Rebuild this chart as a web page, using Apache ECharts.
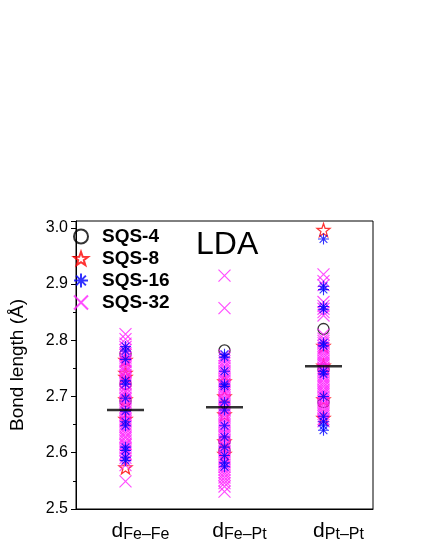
<!DOCTYPE html>
<html>
<head>
<meta charset="utf-8">
<script src="https://cdn.jsdelivr.net/npm/echarts@6/dist/echarts.min.js"></script>
<style>
  html, body { margin: 0; padding: 0; background: #fff; }
  #chart { width: 424px; height: 548px; }
</style>
</head>
<body>
<div id="chart"></div>
<script>
// categories
var categories = ["Fe–Fe", "Fe–Pt", "Pt–Pt"];
var yTicks = [2.5, 2.6, 2.7, 2.8, 2.9, 3.0];

// bond lengths, one list per category
var sqs4 = [
  [2.776, 2.722, 2.692],
  [2.782, 2.620, 2.604],
  [2.820, 2.748, 2.690]
];
var sqs8 = [
  [2.765, 2.742, 2.735, 2.695, 2.660, 2.574],
  [2.727, 2.700, 2.668, 2.620, 2.598],
  [2.996, 2.790, 2.755, 2.695, 2.662]
];
var sqs16 = [
  [2.789, 2.781, 2.766, 2.728, 2.722, 2.697, 2.674, 2.655, 2.648, 2.610, 2.604, 2.592, 2.586],
  [2.775, 2.770, 2.745, 2.722, 2.718, 2.690, 2.676, 2.648, 2.628, 2.610, 2.595, 2.582, 2.575],
  [2.980, 2.896, 2.890, 2.860, 2.855, 2.795, 2.790, 2.745, 2.740, 2.700, 2.665, 2.655, 2.648, 2.640]
];
var sqs32 = [
  [2.811, 2.802, 2.794, 2.788, 2.783, 2.777, 2.774, 2.769, 2.764, 2.761, 2.756, 2.752, 2.746,
   2.743, 2.738, 2.733, 2.730, 2.724, 2.721, 2.716, 2.711, 2.708, 2.703, 2.698, 2.695, 2.690,
   2.686, 2.681, 2.677, 2.673, 2.668, 2.665, 2.660, 2.656, 2.651, 2.647, 2.643, 2.638, 2.634,
   2.629, 2.626, 2.621, 2.616, 2.613, 2.608, 2.604, 2.599, 2.596, 2.591, 2.585, 2.578, 2.549],
  [2.915, 2.857, 2.773, 2.768, 2.763, 2.759, 2.754, 2.750, 2.745, 2.741, 2.737, 2.732, 2.728,
   2.723, 2.719, 2.715, 2.710, 2.706, 2.702, 2.697, 2.693, 2.689, 2.684, 2.680, 2.676, 2.671,
   2.667, 2.663, 2.658, 2.654, 2.649, 2.645, 2.641, 2.636, 2.632, 2.628, 2.623, 2.619, 2.614,
   2.610, 2.606, 2.601, 2.597, 2.592, 2.588, 2.584, 2.579, 2.575, 2.570, 2.565, 2.561, 2.556,
   2.551, 2.546, 2.540, 2.531],
  [2.917, 2.905, 2.898, 2.868, 2.861, 2.856, 2.850, 2.844, 2.810, 2.803, 2.799, 2.795, 2.790,
   2.786, 2.782, 2.777, 2.773, 2.769, 2.764, 2.760, 2.756, 2.751, 2.747, 2.743, 2.738, 2.734,
   2.730, 2.725, 2.721, 2.717, 2.712, 2.708, 2.704, 2.699, 2.695, 2.691, 2.686, 2.682, 2.678,
   2.673, 2.669, 2.665, 2.660, 2.656]
];
// averages (black bars)
var means = [2.676, 2.681, 2.754];

function toPoints(lists) {
  var out = [];
  lists.forEach(function (vals, i) {
    vals.forEach(function (v) { out.push([i, v]); });
  });
  return out;
}

var starPath = "path://M10,0L12.35,6.76L19.51,6.91L13.80,11.24L15.88,18.09L10,14L4.12,18.09L6.20,11.24L0.49,6.91L7.65,6.76Z";
var asteriskPath = "path://M0,5L10,5M5,0L5,10M1.5,1.5L8.5,8.5M8.5,1.5L1.5,8.5";
var crossPath = "path://M0,0L10,10M10,0L0,10";

var chart = echarts.init(document.getElementById("chart"));
var font = "Liberation Sans, Arial, sans-serif";

var option = {
  animation: false,
  backgroundColor: "#fff",
  textStyle: { fontFamily: font },
  grid: { left: 66, right: 51, top: 221, bottom: 39, show: true, borderColor: "#000", borderWidth: 1 },
  title: {
    text: "LDA",
    left: 191,
    top: 224,
    textStyle: { fontSize: 32, fontWeight: "normal", color: "#000", fontFamily: font }
  },
  legend: {
    orient: "vertical",
    left: 68,
    top: 222,
    itemWidth: 14,
    itemHeight: 14,
    itemGap: 3,
    data: ["SQS-4", "SQS-8", "SQS-16", "SQS-32"],
    textStyle: { fontSize: 19, fontWeight: "bold", color: "#000", fontFamily: font, padding: [0, 0, 0, 9] }
  },
  xAxis: {
    type: "category",
    data: categories,
    boundaryGap: true,
    axisLine: { lineStyle: { color: "#000", width: 1 } },
    axisTick: { alignWithLabel: true, length: 5, lineStyle: { color: "#000" } },
    axisLabel: {
      interval: 0,
      margin: 12,
      padding: [0, 0, 0, 30],
      formatter: function (v) { return "{d|d}{s|" + v + "}"; },
      rich: {
        d: { fontSize: 21, color: "#000", fontFamily: font, verticalAlign: "top", lineHeight: 22 },
        s: { fontSize: 16, color: "#000", fontFamily: font, verticalAlign: "bottom", lineHeight: 15, padding: [11, 0, 0, 0] }
      }
    },
    splitLine: { show: false }
  },
  yAxis: {
    type: "value",
    min: 2.5,
    max: 3.012,
    interval: 0.1,
    name: "Bond length (Å)",
    nameLocation: "middle",
    nameGap: 49,
    nameTextStyle: { fontSize: 19, color: "#000", fontFamily: font },
    axisLine: { show: true, lineStyle: { color: "#000", width: 1 } },
    axisTick: { show: true, length: 5, lineStyle: { color: "#000" } },
    minorTick: { show: true, splitNumber: 2, length: 3, lineStyle: { color: "#000" } },
    axisLabel: {
      fontSize: 16,
      color: "#000",
      margin: 8,
      showMaxLabel: false,
      formatter: function (v) {
        var t = yTicks.find(function (k) { return Math.abs(k - v) < 1e-6; });
        return t === undefined ? "" : t.toFixed(1);
      }
    },
    splitLine: { show: false }
  },
  series: [
    {
      name: "SQS-4",
      type: "scatter",
      symbol: "circle",
      symbolSize: 11,
      z: 2,
      itemStyle: { color: "transparent", borderColor: "#000", borderWidth: 1.3 },
      data: toPoints(sqs4)
    },
    {
      name: "SQS-8",
      type: "scatter",
      symbol: starPath,
      symbolSize: 13,
      z: 3,
      itemStyle: { color: "transparent", borderColor: "#ff0000", borderWidth: 1.3 },
      data: toPoints(sqs8)
    },
    {
      name: "SQS-32",
      type: "scatter",
      symbol: crossPath,
      symbolSize: 12,
      z: 4,
      itemStyle: { color: "transparent", borderColor: "#ff22ff", borderWidth: 1.2 },
      data: toPoints(sqs32)
    },
    {
      name: "SQS-16",
      type: "scatter",
      symbol: asteriskPath,
      symbolSize: 11,
      z: 5,
      itemStyle: { color: "transparent", borderColor: "#0000ff", borderWidth: 1.1 },
      data: toPoints(sqs16)
    },
    {
      name: "mean",
      type: "scatter",
      symbol: "rect",
      symbolSize: [37, 2.5],
      z: 6,
      itemStyle: { color: "#000" },
      data: means.map(function (v, i) { return [i, v]; })
    }
  ]
};

chart.setOption(option);
</script>
</body>
</html>
